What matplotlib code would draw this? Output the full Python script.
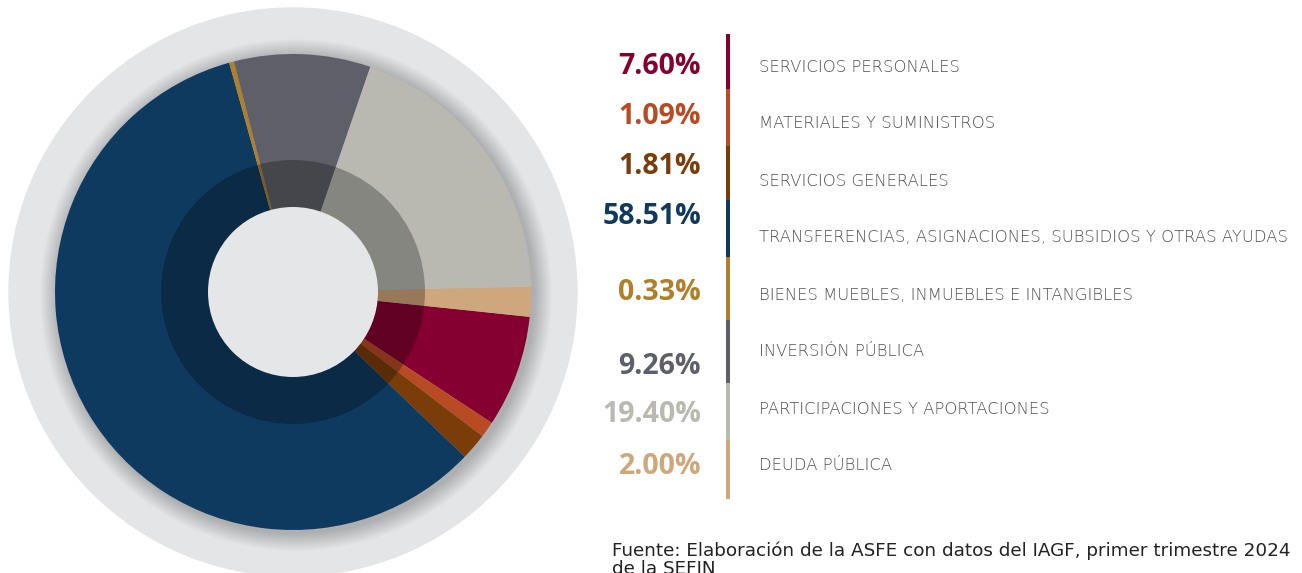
import matplotlib.pyplot as plt
from matplotlib.patches import Circle, Rectangle

# =========================
# DATA
# =========================
categories = [
    "SERVICIOS PERSONALES",
    "MATERIALES Y SUMINISTROS",
    "SERVICIOS GENERALES",
    "TRANSFERENCIAS, ASIGNACIONES, SUBSIDIOS Y OTRAS AYUDAS",
    "BIENES MUEBLES, INMUEBLES E INTANGIBLES",
    "INVERSIÓN PÚBLICA",
    "PARTICIPACIONES Y APORTACIONES",
    "DEUDA PÚBLICA",
]
shares = [7.60, 1.09, 1.81, 58.51, 0.33, 9.26, 19.40, 2.00]
colors = ["#850030", "#b84a24", "#7a3d0a", "#0f3a5f",
          "#b07f2a", "#5f5f69", "#b9b9b1", "#cfa77c"]

source_note = ("Fuente: Elaboración de la ASFE con datos del IAGF, primer trimestre 2024\n"
               "de la SEFIN")

# =========================
# LAYOUT (pixel coords, y up)
# =========================
W, H = 1302, 573
cx, cy = 293, H - 292
pct_y = [67, 117, 167, 217, 293, 366, 415, 466]
lab_y = [67, 124, 181, 238, 295, 352, 409, 466]
bar_edges = [34, 89, 146, 200, 257, 320, 383, 440, 499]

fig = plt.figure(figsize=(W / 100, H / 100), dpi=100)
ax = fig.add_axes([0, 0, 1, 1])

# background disc and soft shadow
ax.add_patch(Circle((cx, cy), 284, color="#e4e5e7", zorder=0))
for k in range(18):
    ax.add_patch(Circle((cx + 3, cy - 3), 238 + 18 - k, color="black",
                        alpha=0.012, lw=0, zorder=1))

ax.pie(shares, colors=colors, startangle=-6, counterclock=False,
       center=(cx, cy), radius=238, frame=True,
       wedgeprops=dict(linewidth=0, zorder=2))

# darker inner ring and hole
ax.add_patch(Circle((cx, cy), 132, color="black", alpha=0.27, lw=0, zorder=3))
ax.add_patch(Circle((cx, cy), 85, color="#e5e6e8", lw=0, zorder=4))

# legend block
for i, (name, val, col) in enumerate(zip(categories, shares, colors)):
    ax.text(701, H - pct_y[i], f"{val:.2f}%", color=col, fontsize=20.5,
            fontweight="bold", family="Open Sans", ha="right", va="center")
    ax.text(759, H - lab_y[i], name, color="#505050", fontsize=11.8,
            fontweight="light", family="DejaVu Sans", ha="left", va="center")
    ax.add_patch(Rectangle((726, H - bar_edges[i + 1]), 4,
                           bar_edges[i + 1] - bar_edges[i], color=col, lw=0))

ax.text(612, H - 541, source_note, color="#222222", fontsize=13.2,
        family="DejaVu Sans", ha="left", va="top", linespacing=1.0)

ax.set_xlim(0, W)
ax.set_ylim(0, H)
ax.set_aspect("equal")
ax.axis("off")

fig.savefig("out.png", dpi=100)
